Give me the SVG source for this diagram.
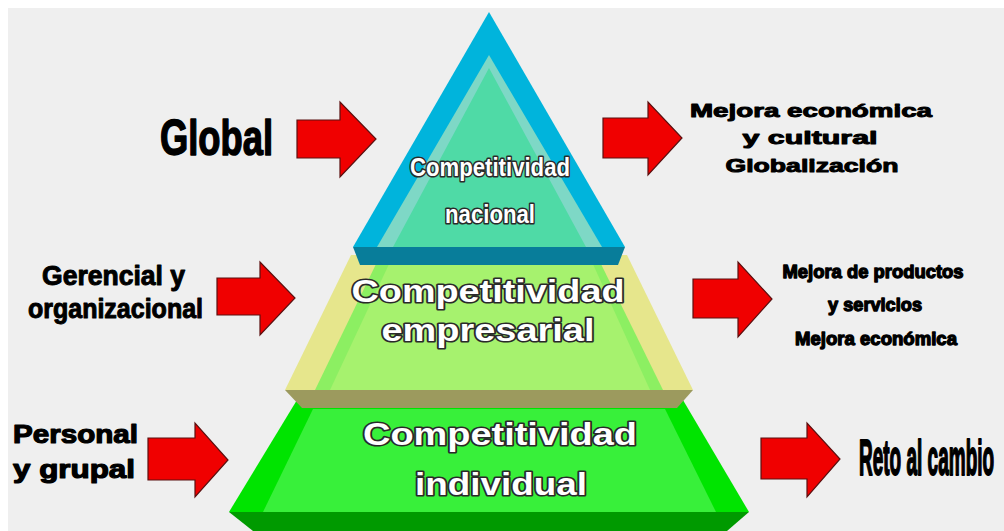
<svg xmlns="http://www.w3.org/2000/svg" width="1004" height="531" viewBox="0 0 1004 531">
<defs>
<style>
.lbl{font-family:"Liberation Sans",Arial,sans-serif;font-weight:bold;fill:#000;stroke:#000;stroke-linejoin:round}
.pyr{font-family:"Liberation Sans",Arial,sans-serif;font-weight:bold;fill:#fff;stroke:#2a2a2a;stroke-width:3.2;paint-order:stroke;stroke-linejoin:round}
.arr{fill:#f00000;stroke:#5a1010;stroke-width:1.2;stroke-linejoin:miter}
</style>
</defs>
<rect x="0" y="0" width="1004" height="531" fill="#ffffff"/>
<rect x="8" y="8" width="996" height="523" fill="#efefef"/>

<g id="nivel-individual">
<polygon points="300,395 680,395 749,512 229,512" fill="#00e400"/>
<polygon points="313,409 665,409 716,512 263,512" fill="#38f03a"/>
<polygon points="229,512 749,512 727,531 253,531" fill="#009a00"/>
<text class="pyr" x="500" y="445" font-size="31" text-anchor="middle" textLength="274" lengthAdjust="spacingAndGlyphs">Competitividad</text>
<text class="pyr" x="501" y="495" font-size="31" text-anchor="middle" textLength="172" lengthAdjust="spacingAndGlyphs">individual</text>
</g>

<g id="nivel-empresarial">
<polygon points="351,255 627,255 693,390 285,390" fill="#e6e68c"/>
<polygon points="377,262 600,262 663,390 315,390" fill="#8cef62"/>
<polygon points="390,262 592,262 650,390 330,390" fill="#a6f26e"/>
<polygon points="285,390 693,390 677,408 302,408" fill="#9c9a5e"/>
<text class="pyr" x="488" y="302" font-size="31" text-anchor="middle" textLength="273" lengthAdjust="spacingAndGlyphs">Competitividad</text>
<text class="pyr" x="488" y="341" font-size="31" text-anchor="middle" textLength="213" lengthAdjust="spacingAndGlyphs">empresarial</text>
</g>

<g id="nivel-nacional">
<polygon points="489,12 353,247 625,247" fill="#00b4dc"/>
<polygon points="489,55 377,247 602,247" fill="#7ed8c6"/>
<polygon points="489,68 393,247 586,247" fill="#4fdaa6"/>
<polygon points="353,247 625,247 618,265 360,265" fill="#087d9a"/>
<text class="pyr" x="490" y="176" font-size="25" stroke-width="2.6" text-anchor="middle" textLength="160" lengthAdjust="spacingAndGlyphs">Competitividad</text>
<text class="pyr" x="490" y="223" font-size="25" stroke-width="2.6" text-anchor="middle" textLength="90" lengthAdjust="spacingAndGlyphs">nacional</text>
</g>

<g id="label-global">
<text class="lbl" x="160" y="155" font-size="50" stroke-width="1.5" textLength="113" lengthAdjust="spacingAndGlyphs">Global</text>
</g>
<g id="label-gerencial">
<text class="lbl" x="42" y="285" font-size="27" stroke-width="1" textLength="143" lengthAdjust="spacingAndGlyphs">Gerencial y</text>
<text class="lbl" x="28" y="318" font-size="27" stroke-width="1" textLength="175" lengthAdjust="spacingAndGlyphs">organizacional</text>
</g>
<g id="label-personal">
<text class="lbl" x="13" y="443" font-size="26" stroke-width="1.2" textLength="125" lengthAdjust="spacingAndGlyphs">Personal</text>
<text class="lbl" x="13" y="478" font-size="26" stroke-width="1.2" textLength="122" lengthAdjust="spacingAndGlyphs">y grupal</text>
</g>

<g id="result-global">
<text class="lbl" x="811" y="117" font-size="19" stroke-width="1" text-anchor="middle" textLength="242" lengthAdjust="spacingAndGlyphs">Mejora económica</text>
<text class="lbl" x="810" y="144" font-size="19" stroke-width="1" text-anchor="middle" textLength="135" lengthAdjust="spacingAndGlyphs">y cultural</text>
<text class="lbl" x="812" y="172" font-size="19" stroke-width="1" text-anchor="middle" textLength="173" lengthAdjust="spacingAndGlyphs">Globalización</text>
</g>
<g id="result-empresarial">
<text class="lbl" x="873" y="278" font-size="18" stroke-width="1.3" text-anchor="middle" textLength="181" lengthAdjust="spacingAndGlyphs">Mejora de productos</text>
<text class="lbl" x="875" y="311" font-size="18" stroke-width="1.3" text-anchor="middle" textLength="94" lengthAdjust="spacingAndGlyphs">y servicios</text>
<text class="lbl" x="876" y="345" font-size="18" stroke-width="1.3" text-anchor="middle" textLength="162" lengthAdjust="spacingAndGlyphs">Mejora económica</text>
</g>
<g id="result-individual">
<text class="lbl" transform="translate(859,475) scale(0.38,1)" x="0" y="0" font-size="50" stroke-width="2">Reto al cambio</text>
</g>

<g id="connectors">
<polygon class="arr" points="297,120 340,120 340,102 376,139 340,177 340,158 297,158"/>
<polygon class="arr" points="217,278 260,278 260,262 295,298 260,335 260,315 217,315"/>
<polygon class="arr" points="148,438 195,438 195,423 228,460 195,497 195,480 148,480"/>
<polygon class="arr" points="603,118 648,118 648,102 682,138 648,175 648,158 603,158"/>
<polygon class="arr" points="693,279 738,279 738,262 772,299 738,337 738,318 693,318"/>
<polygon class="arr" points="761,438 807,438 807,423 840,459 807,497 807,479 761,479"/>
</g>
</svg>
